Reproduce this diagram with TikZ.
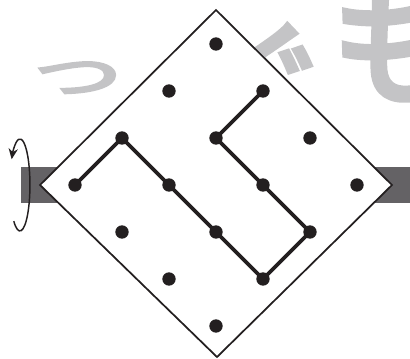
\documentclass[tikz,border=0pt]{standalone}
\usepackage{fontspec}
\newfontfamily\jpfont{Noto Sans CJK JP}[FakeBold=5]
\usetikzlibrary{arrows.meta}
\definecolor{wmgray}{RGB}{196,196,198}
\definecolor{bargray}{RGB}{100,98,101}
\definecolor{ink}{RGB}{35,31,32}
\begin{document}
\begin{tikzpicture}[x=0.75pt,y=-0.75pt,
  wm/.style={text=wmgray,inner sep=0pt},
  gdot/.style={circle,fill=ink,inner sep=0pt,minimum size=10pt},
  frame/.style={draw=ink,line width=1.3pt,fill=white,line join=miter},
  route/.style={draw=ink,line width=2.8pt,line join=round,line cap=round},
  spin/.style={draw=ink,line width=1.1pt,-{Stealth[length=8pt,width=7pt]}},
  bar/.style={fill=bargray,draw=none}]
\useasboundingbox (0,0) rectangle (410,358);
% watermark
\node[wm,font=\jpfont\fontsize{66}{66}\selectfont,yscale=0.55] (w1) at (78,78) {つ};
\node[wm,font=\jpfont\fontsize{85}{85}\selectfont,rotate=-5] (w2) at (270,73) {ぐ};
\node[wm,font=\jpfont\fontsize{100}{100}\selectfont,rotate=5] (w3) at (399,44) {も};
% bar
\fill[bar] (21,167) rectangle (410,203);
% diamond
\coordinate (T) at (216,10);
\coordinate (R) at (392,185);
\coordinate (B) at (217,357);
\coordinate (L) at (40,185);
\path[frame] (T) -- (R) -- (B) -- (L) -- cycle;
% dots
\foreach \i in {0,...,3}
  \foreach \j in {0,...,3}
    \node[gdot] (d\i\j) at ({216+47*(\i-\j)},{44+47*(\i+\j)}) {};
% route
\draw[route] (d03.center) -- (d02.center) -- (d12.center) -- (d22.center) -- (d32.center)
  -- (d31.center) -- (d21.center) -- (d11.center) -- (d10.center);
% rotation arrow
\coordinate (spinstart) at (13.8,221.2);
\draw[spin] (spinstart) arc[start angle=128,end angle=-146,x radius=10,y radius=46];
\end{tikzpicture}
\end{document}
